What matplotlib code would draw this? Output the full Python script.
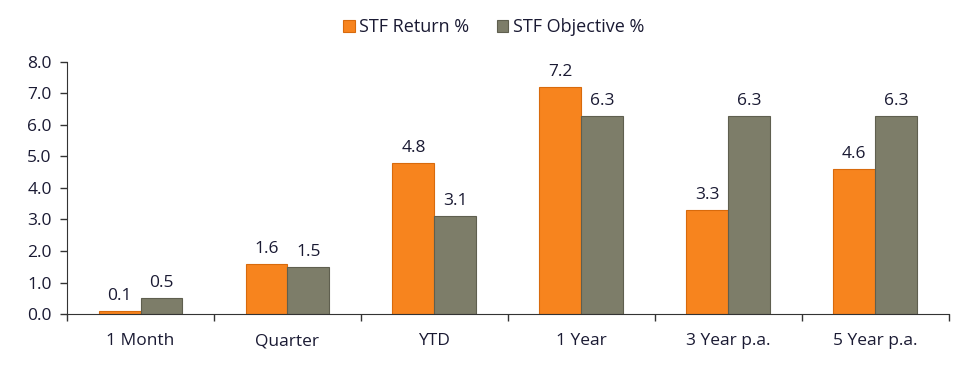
import matplotlib
matplotlib.use("Agg")
import matplotlib.pyplot as plt
import numpy as np

categories = ["1 Month", "Quarter", "YTD", "1 Year", "3 Year p.a.", "5 Year p.a."]
stf_return = [0.1, 1.6, 4.8, 7.2, 3.3, 4.6]
stf_objective = [0.5, 1.5, 3.1, 6.3, 6.3, 6.3]
series_names = ["STF Return %", "STF Objective %"]

plt.rcParams['font.family'] = ['Open Sans', 'DejaVu Sans']
text_color = "#1a1a33"
fs = 12.5

fig = plt.figure(figsize=(9.66, 3.71), dpi=100)
ax = fig.add_axes([0.0694, 0.1536, 0.9126, 0.6794])

x = np.arange(len(categories))
w = 0.285
c1 = "#F7841E"
c2 = "#7D7D69"
b1 = ax.bar(x - w/2, stf_return, w, color=c1, edgecolor="#d86a0c", linewidth=0.8, label=series_names[0])
b2 = ax.bar(x + w/2, stf_objective, w, color=c2, edgecolor="#5f5f4f", linewidth=0.8, label=series_names[1])

for rects, vals in ((b1, stf_return), (b2, stf_objective)):
    for r, v in zip(rects, vals):
        ax.text(r.get_x() + r.get_width()/2, v + 0.22, f"{v:.1f}", ha="center", va="bottom",
                fontsize=fs, color=text_color)

ax.set_xlim(-0.5, len(categories) - 0.5)
ax.set_ylim(0, 8)
ax.set_yticks(np.arange(0, 9, 1))
ax.set_yticklabels([f"{v:.1f}" for v in np.arange(0, 9, 1)], fontsize=fs, color=text_color)
ax.set_xticks(x)
ax.set_xticklabels(categories, fontsize=fs, color=text_color)
ax.tick_params(axis='x', length=0, pad=14)
ax.set_xticks(np.arange(-0.5, len(categories), 1), minor=True)
ax.tick_params(axis='x', which='minor', length=5, color="#333333", width=1)
ax.tick_params(axis='y', length=5, color="#333333", width=1, pad=6)

for s in ("top", "right"):
    ax.spines[s].set_visible(False)
ax.spines["left"].set_color("#333333")
ax.spines["bottom"].set_color("#333333")

fig.legend(handles=[b1, b2], labels=series_names, loc="upper center", bbox_to_anchor=(0.511, 0.995),
           ncol=2, frameon=False, fontsize=13, handlelength=0.65, handleheight=0.65,
           handletextpad=0.25, columnspacing=1.5, labelcolor=text_color)

fig.savefig("out.png", dpi=100)
